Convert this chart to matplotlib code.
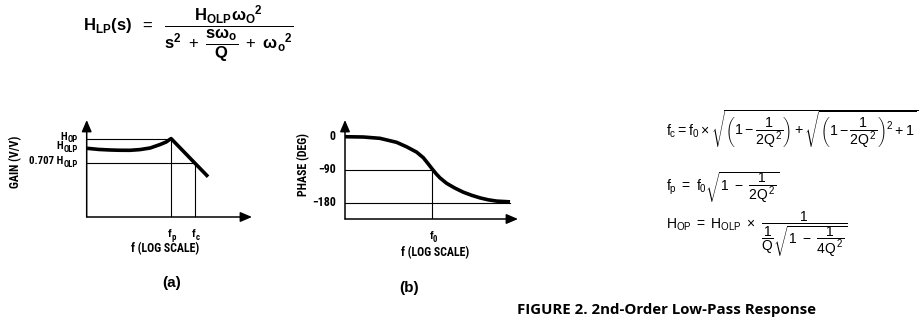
import matplotlib
matplotlib.use("Agg")
import matplotlib.pyplot as plt
from matplotlib import font_manager

# --- gain plot (a): frequencies normalised to f0 = 1 ---
f_p = 0.707
f_c = 1.27
H_OLP = 1.0
H_OP = 1.19
H_3DB = 0.707
gain_f = [0.090, 0.120, 0.159, 0.200, 0.259, 0.330, 0.423, 0.540, 0.626, 0.707, 1.75]
gain_v = [1.000, 0.978, 0.967, 0.962, 0.961, 0.975, 1.006, 1.074, 1.123, 1.190, 0.445]
gain_xlim = (0.0893, 5.14)
gain_ylim = (-0.342, 1.553)

# --- phase plot (b) ---
f_0 = 1.0
phase_f = [0.118, 0.185, 0.278, 0.418, 0.534, 0.682, 0.802, 0.90, 1.0, 1.10,
           1.207, 1.423, 1.744, 2.137, 2.625, 3.217, 3.942, 4.842, 6.71]
phase_deg = [0, -0.8, -4.4, -15.3, -27.5, -42, -57, -73, -88, -101,
             -112, -127, -140, -151, -159.5, -166.5, -171.8, -175.3, -177.3]
phase_ticks = [0, -90, -180]
phase_xlim = (0.118, 8.16)
phase_ylim = (-224, 45.5)

# pick a condensed bold face for the axis annotations if one is around
fonts = font_manager.fontManager.ttflist
names = {f.name for f in fonts}
if "Roboto Condensed" in names:
    cond = dict(family="Roboto Condensed")
elif "Liberation Sans Narrow" in names:
    cond = dict(family="Liberation Sans Narrow")
elif any(f.name == "DejaVu Sans" and "ondensed" in str(f.stretch) for f in fonts):
    cond = dict(family="DejaVu Sans", fontstretch="condensed")
else:
    cond = dict(family="Roboto")

plt.rcParams["mathtext.fontset"] = "custom"
plt.rcParams["mathtext.rm"] = "Liberation Sans"
plt.rcParams["mathtext.it"] = "Liberation Sans"
plt.rcParams["mathtext.bf"] = "Liberation Sans:bold"

W, H = 924, 320
fig = plt.figure(figsize=(W / 100, H / 100), dpi=100)


def px_axes(x0, y_bottom, x1, y_top):
    return fig.add_axes([x0 / W, 1 - y_bottom / H, (x1 - x0) / W, (y_bottom - y_top) / H])


def draw_frame(ax, xlim, ylim):
    ax.set_xscale("log")
    ax.set_xlim(*xlim)
    ax.set_ylim(*ylim)
    ax.axis("off")
    arrow = dict(arrowstyle="-|>,head_length=0.7,head_width=0.3", lw=1.1, color="black",
                 shrinkA=0, shrinkB=0)
    ax.annotate("", xy=(xlim[1], ylim[0]), xytext=(xlim[0], ylim[0]), arrowprops=arrow,
                annotation_clip=False)
    ax.annotate("", xy=(xlim[0], ylim[1]), xytext=(xlim[0], ylim[0]), arrowprops=arrow,
                annotation_clip=False)


title = dict(fontweight="bold", fontsize=8.6, color="black", **cond)
lab = dict(fontweight="bold", fontsize=7.8, color="black", **cond)
sub = dict(fontweight="bold", fontsize=6.3, color="black", **cond)


def ylabel_sub(ax, y, main, subtxt):
    # subscripted label, right-aligned just left of the y axis
    s = ax.annotate(subtxt, xy=(ax.get_xlim()[0], y), xytext=(-6.5, -0.8),
                    textcoords="offset points", ha="right", va="center", **sub)
    ax.annotate(main, xy=(0, 0.5), xycoords=s, xytext=(0, 2.2), textcoords="offset points",
                ha="right", va="center", **lab)


def xlabel_sub(ax, x, main, subtxt):
    y = ax.get_ylim()[0]
    ax.annotate(main, xy=(x, y), xytext=(0.5, -12.5), textcoords="offset points",
                ha="right", va="center", **lab)
    ax.annotate(subtxt, xy=(x, y), xytext=(0.5, -14.5), textcoords="offset points",
                ha="left", va="center", **sub)


# (a) gain
ax = px_axes(86.7, 217, 252, 120)
draw_frame(ax, gain_xlim, gain_ylim)
x0, y0 = gain_xlim[0], gain_ylim[0]
ax.plot([x0, f_p], [H_OP, H_OP], color="black", lw=0.8)
ax.plot([x0, f_c], [H_3DB, H_3DB], color="black", lw=0.8)
ax.plot([f_p, f_p], [y0, H_OP], color="black", lw=0.8)
ax.plot([f_c, f_c], [y0, H_3DB], color="black", lw=0.8)
ax.plot(gain_f, gain_v, color="black", lw=2.6, solid_capstyle="butt", solid_joinstyle="round")
ylabel_sub(ax, H_OP, "H", "OP")
ylabel_sub(ax, H_OLP, "H", "OLP")
ylabel_sub(ax, H_3DB, "0.707 H", "OLP")
xlabel_sub(ax, f_p, "f", "p")
xlabel_sub(ax, f_c, "f", "c")
fig.text(165 / W, 1 - 248.5 / H, "f (LOG SCALE)", ha="center", va="center", **title)
fig.text(15.5 / W, 1 - 162 / H, "GAIN (V/V)", rotation=90, ha="center", va="center", **title)
fig.text(172 / W, 1 - 283 / H, "(a)", ha="center", va="center", fontsize=11,
         fontweight="bold", family="Liberation Sans")

# (b) phase
ax = px_axes(345, 219, 518, 120)
draw_frame(ax, phase_xlim, phase_ylim)
x0, y0 = phase_xlim[0], phase_ylim[0]
ax.plot([x0, f_0], [-90, -90], color="black", lw=0.8)
ax.plot([x0, phase_f[-1]], [-180, -180], color="black", lw=0.8)
ax.plot([f_0, f_0], [y0, -90], color="black", lw=0.8)
ax.plot(phase_f, phase_deg, color="black", lw=2.6, solid_capstyle="butt", solid_joinstyle="round")
for val in phase_ticks:
    txt = "0" if val == 0 else "\u2212" + str(-val)
    ax.annotate(txt, xy=(x0, val), xytext=(-6.5, 0), textcoords="offset points",
                ha="right", va="center", **title)
xlabel_sub(ax, f_0, "f", "0")
fig.text(435 / W, 1 - 253 / H, "f (LOG SCALE)", ha="center", va="center", **title)
fig.text(304 / W, 1 - 165 / H, "PHASE (DEG)", rotation=90, ha="center", va="center", **title)
fig.text(409 / W, 1 - 288 / H, "(b)", ha="center", va="center", fontsize=11,
         fontweight="bold", family="Liberation Sans")

# transfer function
fig.text(83 / W, 1 - 31 / H,
         r"$\mathbf{H_{LP}(s)}\ \ =\ \ \dfrac{\mathbf{H_{OLP}\omega_O{}^2}}"
         r"{\mathbf{s^2}\ +\ \dfrac{\mathbf{s\omega_o}}{\mathbf{Q}}\ +\ \mathbf{\omega_o{}^2}}$",
         ha="left", va="baseline", fontsize=12)

# design equations
fig.text(666 / W, 1 - 135 / H,
         r"$f_c = f_0\times\sqrt{\left(1-\dfrac{1}{2Q^2}\right)+"
         r"\sqrt{\left(1-\dfrac{1}{2Q^2}\right)^2+1}}$",
         ha="left", va="baseline", fontsize=10.2)
fig.text(666 / W, 1 - 190 / H, r"$f_p\ =\ f_0\sqrt{1\ -\ \dfrac{1}{2Q^2}}$",
         ha="left", va="baseline", fontsize=10)
fig.text(666 / W, 1 - 229 / H,
         r"$H_{OP}\ =\ H_{OLP}\ \times\ \dfrac{1}{\dfrac{1}{Q}\sqrt{1\ -\ \dfrac{1}{4Q^2}}}$",
         ha="left", va="baseline", fontsize=10)

fig.text(517 / W, 1 - 310 / H, "FIGURE 2. 2nd-Order Low-Pass Response", ha="left",
         va="center", fontsize=10.8, fontweight="bold", family="Open Sans")

fig.savefig("out.png", dpi=100)
